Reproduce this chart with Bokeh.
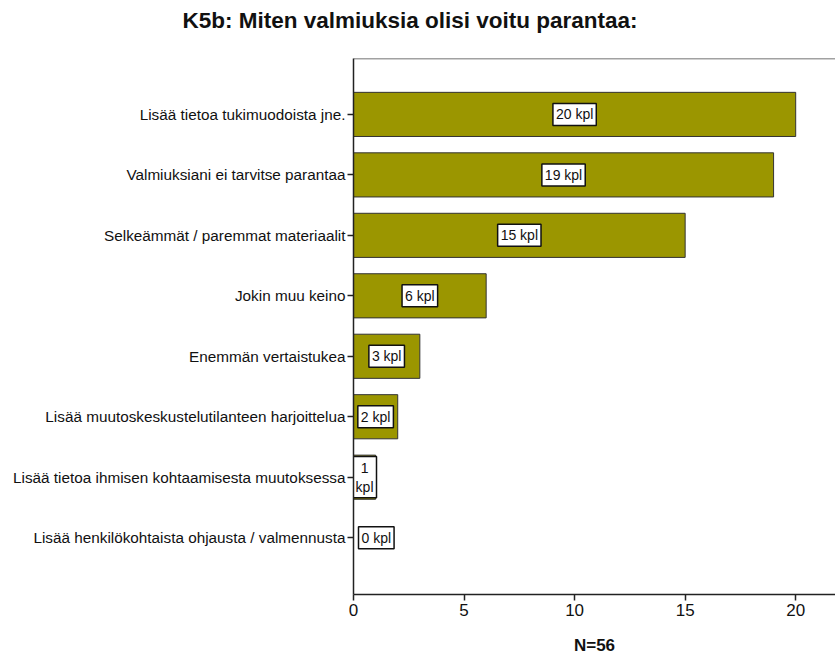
from bokeh.plotting import figure
from bokeh.models import ColumnDataSource, FixedTicker, Span, Title
from bokeh.core.properties import value
from bokeh.embed import file_html
from bokeh.resources import INLINE

# Survey answers, listed top to bottom
categories = [
    "Lisää tietoa tukimuodoista jne.",
    "Valmiuksiani ei tarvitse parantaa",
    "Selkeämmät / paremmat materiaalit",
    "Jokin muu keino",
    "Enemmän vertaistukea",
    "Lisää muutoskeskustelutilanteen harjoittelua",
    "Lisää tietoa ihmisen kohtaamisesta muutoksessa",
    "Lisää henkilökohtaista ohjausta / valmennusta",
]
counts = [20, 19, 15, 6, 3, 2, 1, 0]
x_ticks = [0, 5, 10, 15, 20]
n_total = 56
title_text = "K5b: Miten valmiuksia olisi voitu parantaa:"

FONT = "Liberation Sans"
OLIVE = "#9b9600"
INK = "#222222"

n = len(categories)
ypos = [n - 1 - i for i in range(n)]

# Count labels: narrow bars get the unit on a second line,
# an empty bar gets its label just right of the axis.
labels, lx, align, dx = [], [], [], []
for v in counts:
    labels.append(f"{v}\nkpl" if 0 < v < 2 else f"{v} kpl")
    if v > 0:
        lx.append(v / 2)
        align.append("center")
        dx.append(0)
    else:
        lx.append(0)
        align.append("left")
        dx.append(5)

src = ColumnDataSource(dict(y=ypos, v=counts, lab=labels, lx=lx, align=align, dx=dx))

p = figure(
    width=835, height=657,
    x_range=(0, 21.8), y_range=(-0.94, 7.925),
    output_backend="svg", toolbar_location=None,
    min_border_left=353, min_border_right=0,
    min_border_top=57, min_border_bottom=63,
)
p.outline_line_color = None
p.background_fill_color = "white"
p.border_fill_color = "white"
p.xgrid.visible = False
p.ygrid.visible = False

# blank spacer between the heading and the plot area, then the heading
p.add_layout(Title(text=" ", text_font_size="10px", standoff=8), "above")
p.add_layout(Title(text=title_text, align="left", offset=-171,
                   text_font=FONT, text_font_size="22.5px",
                   text_font_style="bold", text_color="#111111"), "above")

# top border of the plot area
p.add_layout(Span(location=7.925, dimension="width", line_color="#444444", line_width=1.5))

p.hbar(y="y", left=0, right="v", height=0.73, source=src,
       fill_color=OLIVE, line_color="#333333", line_width=1)

p.text(x="lx", y="y", text="lab", source=src,
       text_align="align", text_baseline="middle", x_offset="dx",
       text_font=value(FONT), text_font_size="14px", text_color="#111111",
       background_fill_color="white", border_line_color="#111111",
       border_line_width=1.5, padding=3)

# axes
yax = p.yaxis[0]
yax.ticker = FixedTicker(ticks=ypos)
yax.major_label_overrides = {y: c for y, c in zip(ypos, categories)}
yax.major_label_text_font = FONT
yax.major_label_text_font_size = "15.3px"
yax.major_label_text_color = "#111111"
yax.major_tick_out = 6
yax.major_tick_in = 0
yax.minor_tick_line_color = None
yax.major_label_standoff = 2
yax.axis_line_color = INK
yax.axis_line_width = 1.5
yax.major_tick_line_color = INK
yax.major_tick_line_width = 1.5

xax = p.xaxis[0]
xax.ticker = FixedTicker(ticks=x_ticks)
xax.major_label_text_font = FONT
xax.major_label_text_font_size = "17px"
xax.major_label_text_color = "#111111"
xax.major_tick_out = 6
xax.major_tick_in = 0
xax.minor_tick_line_color = None
xax.major_label_standoff = 3
xax.axis_line_color = INK
xax.axis_line_width = 1.5
xax.major_tick_line_color = INK
xax.major_tick_line_width = 1.5
xax.axis_label = f"N={n_total}"
xax.axis_label_text_font = FONT
xax.axis_label_text_font_size = "17px"
xax.axis_label_text_font_style = "bold"
xax.axis_label_text_color = "#111111"
xax.axis_label_standoff = 17

open("out.html", "w").write(file_html(p, INLINE))
